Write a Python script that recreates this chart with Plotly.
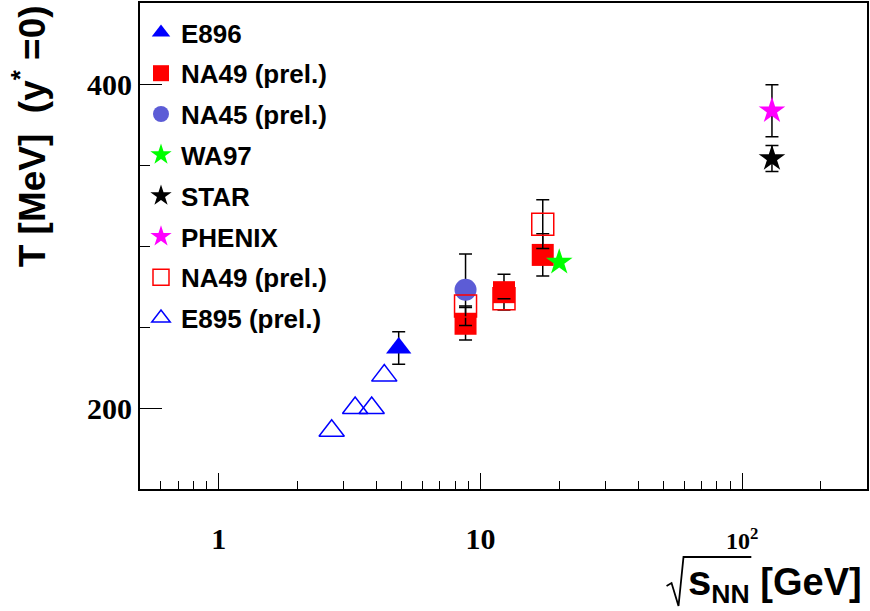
import math
import plotly.graph_objects as go

# Inverse slope parameter T (MeV) at mid-rapidity versus sqrt(s_NN) (GeV)
e896_x = [4.87]
e896_t = [237]
e896_err = [10]

na49_x = [8.77, 12.3, 17.3]
na49_t = [252, 271.5, 294.5]
na49_err = [10, 11, 13]

na45_x = [8.77]
na45_t = [273]
na45_err = [22]

wa97_x = [20.0]
wa97_t = [290]

star_x = [130]
star_t = [354]
star_err = [8]

phenix_x = [130]
phenix_t = [383.5]
phenix_err = [16]

na49o_x = [8.77, 12.3, 17.3]
na49o_t = [263, 267.5, 313.5]
na49o_err = [None, None, 15]

e895_x = [2.7, 3.32, 3.84, 4.29]
e895_t = [186, 200, 200, 220]

x_tickvals = [1, 10, 100]
x_ticktext = ["1", "10", "<span style='font-size:24px'>10<sup>2</sup></span>"]
y_tickvals = [200, 400]

W, H = 870, 611
ML, MR, MT, MB = 140, 1, 3, 122
PW, PH = W - ML - MR, H - MT - MB


def px_x(px):
    return (px - ML) / PW


def px_y(py):
    return (H - MB - py) / PH


def err(vals):
    return dict(type="data", array=vals, color="black", thickness=1.5, width=6.5, visible=True)


fig = go.Figure()

series = [
    dict(name="E896", x=e896_x, y=e896_t, e=e896_err, symbol="triangle-up", size=22,
         color="#0000ff", line=None),
    dict(name="NA49 (prel.)", x=na49_x, y=na49_t, e=na49_err, symbol="square", size=22,
         color="#ff0000", line=None),
    dict(name="NA45 (prel.)", x=na45_x, y=na45_t, e=na45_err, symbol="circle", size=22,
         color="rgb(92,92,214)", line=None),
    dict(name="WA97", x=wa97_x, y=wa97_t, e=None, symbol="star", size=20,
         color="#00ff00", line=None),
    dict(name="STAR", x=star_x, y=star_t, e=star_err, symbol="star", size=20,
         color="#000000", line=None),
    dict(name="PHENIX", x=phenix_x, y=phenix_t, e=phenix_err, symbol="star", size=20,
         color="#ff00ff", line=None),
    dict(name="NA49 (prel.)", x=na49o_x, y=na49o_t, e=na49o_err, symbol="square-open", size=22,
         color="#ff0000", line=1.5),
    dict(name="E895 (prel.)", x=e895_x, y=e895_t, e=None, symbol="triangle-up-open", size=22,
         color="#0000ff", line=1.5),
]

for i, s in enumerate(series):
    marker = dict(symbol=s["symbol"], size=s["size"], color=s["color"])
    if s["line"]:
        marker["line"] = dict(color=s["color"], width=s["line"])
    else:
        marker["line"] = dict(width=0)
    fig.add_trace(go.Scatter(
        x=s["x"], y=s["y"], mode="markers", name=s["name"],
        legendgroup=f"g{i}",
        marker=marker,
        error_y=err(s["e"]) if s["e"] is not None else None,
    ))

minor_x = [m * 10 ** e for e in range(-1, 3) for m in range(2, 10)
           if 0.5 < m * 10 ** e < 300 and m * 10 ** e not in (1, 10, 100)]

fig.update_layout(
    width=W, height=H,
    margin=dict(l=ML, r=MR, t=MT, b=MB),
    paper_bgcolor="white", plot_bgcolor="white",
    showlegend=True,
    legend=dict(
        x=px_x(141), y=px_y(9), xanchor="left", yanchor="top",
        bgcolor="rgba(0,0,0,0)", borderwidth=0,
        font=dict(family="Liberation Sans, Arial, sans-serif", size=26, color="black", weight="bold"),
        tracegroupgap=4, traceorder="grouped",
    ),
    xaxis=dict(
        type="log", range=[math.log10(0.5), math.log10(300)],
        showgrid=False, zeroline=False,
        showline=True, linecolor="black", linewidth=2, mirror=True,
        tickmode="array", tickvals=x_tickvals, ticktext=x_ticktext,
        ticks="inside", ticklen=16, tickwidth=1.3, tickcolor="black",
        ticklabelstandoff=22,
        tickfont=dict(family="Liberation Serif, Times New Roman, serif", size=30, color="black", weight="bold"),
        minor=dict(tickmode="array", tickvals=minor_x, ticks="inside", ticklen=8,
                   tickwidth=1.3, tickcolor="black", showgrid=False),
    ),
    yaxis=dict(
        range=[150, 450],
        showgrid=False, zeroline=False,
        showline=True, linecolor="black", linewidth=2, mirror=True,
        tickmode="array", tickvals=y_tickvals,
        ticks="inside", ticklen=22, tickwidth=1.3, tickcolor="black",
        tickfont=dict(family="Liberation Serif, Times New Roman, serif", size=30, color="black", weight="bold"),
        minor=dict(dtick=50, tick0=0, ticks="inside", ticklen=10,
                   tickwidth=1.3, tickcolor="black", showgrid=False),
    ),
)

# axis titles
fig.add_annotation(
    text="T [MeV]&nbsp; (y<sup>*</sup> =0)",
    xref="paper", yref="paper", x=px_x(29), y=px_y(136),
    xanchor="center", yanchor="middle", textangle=-90, showarrow=False,
    font=dict(family="Liberation Sans, Arial, sans-serif", size=37, color="black", weight="bold"),
)
fig.add_annotation(
    text="<span style='font-size:42px'>s</span><sub>NN</sub> [GeV]",
    xref="paper", yref="paper", x=px_x(866), y=px_y(583),
    xanchor="right", yanchor="middle", showarrow=False,
    font=dict(family="Liberation Sans, Arial, sans-serif", size=38, color="black", weight="bold"),
)
# radical sign over s_NN
rad = [(668, 586), (673, 583), (680, 606), (685, 557), (753, 557)]
path = "M " + " L ".join(f"{px_x(a):.5f},{px_y(b):.5f}" for a, b in rad)
fig.add_shape(type="path", path=path, xref="paper", yref="paper",
              line=dict(color="black", width=1.8))

fig.write_html("out.html", config={"displayModeBar": False})
